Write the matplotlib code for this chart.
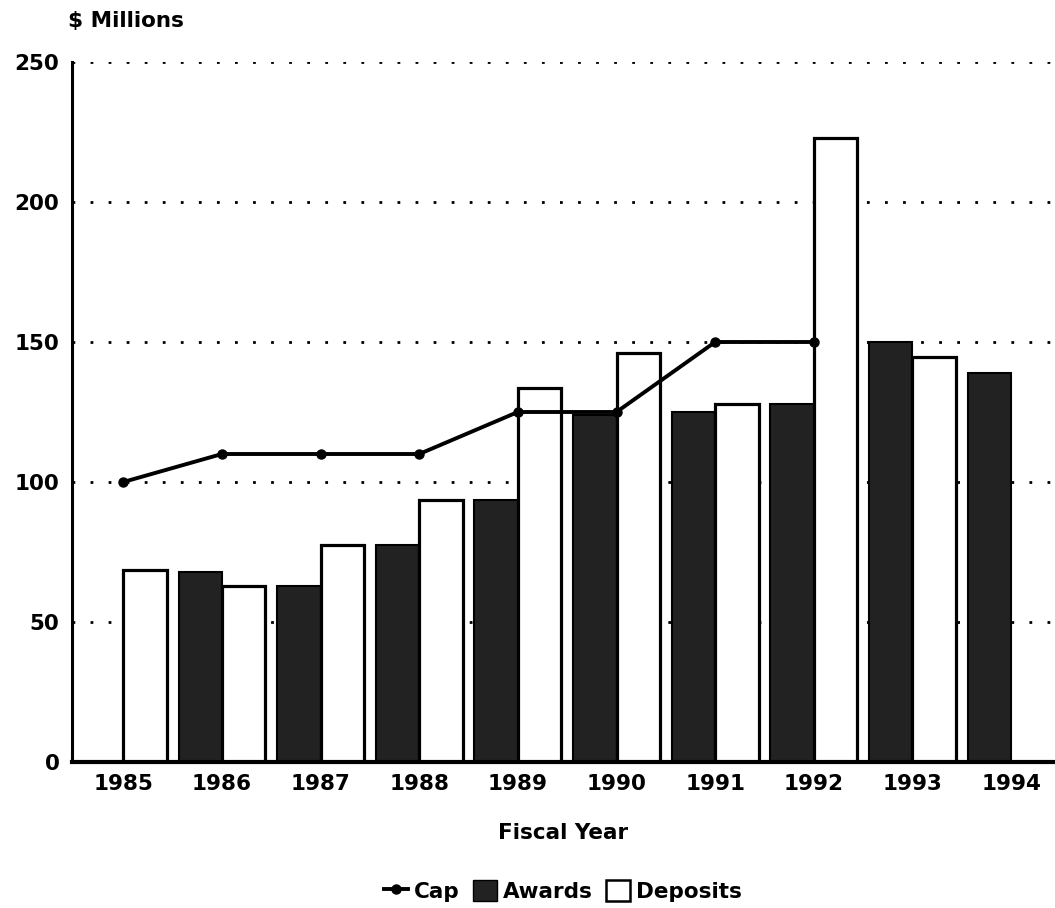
import numpy as np
import matplotlib
matplotlib.use('Agg')
import matplotlib.pyplot as plt
from matplotlib.lines import Line2D
from matplotlib.patches import Patch

# values ($ millions)
years = ['1985', '1986', '1987', '1988', '1989', '1990', '1991', '1992', '1993', '1994']
awards = [np.nan, 68, 63, 77.5, 93.5, 124, 125, 128, 150, 139]
deposits = [68.5, 63, 77.5, 93.5, 133.5, 146, 128, 223, 144.5, np.nan]
cap = [100, 110, 110, 110, 125, 125, 150, 150]

plt.rcParams['font.family'] = ['DejaVu Sans']
plt.rcParams['font.weight'] = 'bold'

fig = plt.figure(figsize=(10.55, 9.08), dpi=100)
ax = fig.add_axes([72/1055, 1-762/908, 1-72/1055, (762-62)/908])

x = np.arange(len(years))
w = 0.44
ax.bar(x - w/2, awards, w, color='#222222', edgecolor='black', linewidth=1.5, zorder=2)
ax.bar(x + w/2, deposits, w, color='white', edgecolor='black', linewidth=2.3, zorder=2)
ax.plot(x[:len(cap)], cap, color='black', lw=2.8, marker='o', ms=6.5, zorder=3)

ax.set_xlim(-0.52, 9.445)
ax.set_ylim(0, 250)
ax.set_yticks([0, 50, 100, 150, 200, 250])
ax.set_xticks(x)
ax.set_xticklabels(years)
ax.tick_params(axis='both', length=0, labelsize=15.5)
ax.tick_params(axis='x', pad=9)
ax.tick_params(axis='y', pad=9)
for lab in ax.get_xticklabels() + ax.get_yticklabels():
    lab.set_fontweight('bold')

ax.yaxis.grid(True, color='black', linestyle=(0, (1, 5.5)), linewidth=2, zorder=0)
ax.set_axisbelow(True)
for s in ['top', 'right']:
    ax.spines[s].set_visible(False)
ax.spines['left'].set_linewidth(2.2)
ax.spines['bottom'].set_linewidth(3)

fig.text(68/1055, 1-21/908, '$ Millions', fontsize=15.5, fontweight='bold',
         ha='left', va='center')
fig.text(563/1055, 1-833/908, 'Fiscal Year', fontsize=15.5, fontweight='bold',
         ha='center', va='center')

handles = [Line2D([], [], color='black', lw=2.8, marker='o', ms=6.5),
           Patch(facecolor='#222222', edgecolor='black'),
           Patch(facecolor='white', edgecolor='black', linewidth=1.8)]
fig.legend(handles, ['Cap', 'Awards', 'Deposits'], loc='center', ncol=3,
           bbox_to_anchor=(563/1055, 1-891/908), frameon=False,
           prop={'size': 15.5, 'weight': 'bold'}, handlelength=1.1,
           handleheight=1.1, handletextpad=0.3, columnspacing=0.6)

fig.savefig('out.png', dpi=100)
